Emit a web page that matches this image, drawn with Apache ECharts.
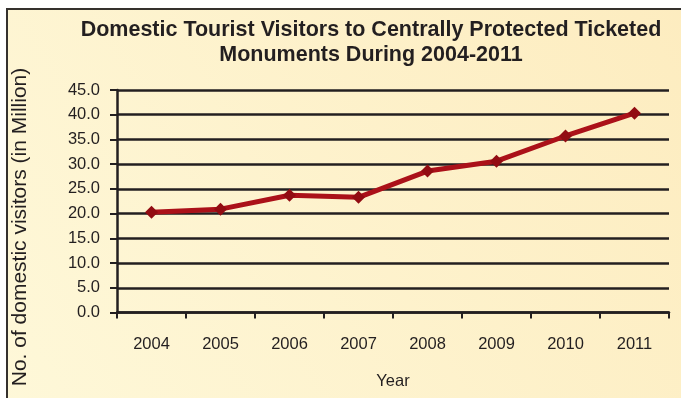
<!DOCTYPE html>
<html>
<head>
<meta charset="utf-8">
<script src="https://cdn.jsdelivr.net/npm/echarts@6/dist/echarts.min.js"></script>
<style>
  html, body { margin: 0; padding: 0; background: #ffffff; }
  #chart { width: 681px; height: 398px; }
</style>
</head>
<body>
<div id="chart"></div>
<script>
// Domestic visitors (millions) to centrally protected ticketed monuments
const years = ['2004', '2005', '2006', '2007', '2008', '2009', '2010', '2011'];
const visitors = [20.3, 20.9, 23.7, 23.3, 28.6, 30.6, 35.7, 40.3];
const yTicks = { min: 0, max: 45, interval: 5 };

const titleText = 'Domestic Tourist Visitors to Centrally Protected Ticketed\nMonuments During 2004-2011';
const yName = 'No. of domestic visitors (in Million)';
const xName = 'Year';

const ink = '#231f20';
const font = 'Liberation Sans, Arial, Helvetica, sans-serif';

const chart = echarts.init(document.getElementById('chart'), null, { renderer: 'canvas' });

chart.setOption({
  animation: false,
  backgroundColor: '#ffffff',
  graphic: [
    {
      type: 'rect',
      z: -10,
      silent: true,
      shape: { x: 7, y: 9, width: 700, height: 420 },
      style: {
        fill: {
          type: 'linear', x: 1, y: 0, x2: 0, y2: 1,
          colorStops: [
            { offset: 0, color: '#fdecbf' },
            { offset: 1, color: '#fef8d9' }
          ]
        },
        stroke: '#35312d',
        lineWidth: 2
      }
    },
    {
      type: 'text',
      x: 20,
      y: 227,
      rotation: Math.PI / 2,
      silent: true,
      style: {
        text: yName,
        fill: ink,
        font: '21px ' + font,
        align: 'center',
        verticalAlign: 'middle'
      }
    }
  ],
  title: {
    text: titleText,
    left: 366,
    top: 13,
    textAlign: 'center',
    textStyle: {
      color: ink,
      fontFamily: font,
      fontWeight: 'bold',
      fontSize: 21.5,
      lineHeight: 25
    }
  },
  grid: { left: 117, right: 12, top: 90, bottom: 85.5, containLabel: false },
  xAxis: {
    type: 'category',
    data: years,
    boundaryGap: true,
    name: xName,
    nameLocation: 'middle',
    nameGap: 60,
    nameTextStyle: { color: ink, fontFamily: font, fontSize: 16.5 },
    axisLine: { show: true, lineStyle: { color: ink, width: 2.5 } },
    axisTick: { show: true, length: 6, inside: false, lineStyle: { color: ink, width: 2 } },
    axisLabel: { color: ink, fontFamily: font, fontSize: 16.5, margin: 23 },
    splitLine: { show: false }
  },
  yAxis: {
    type: 'value',
    min: yTicks.min,
    max: yTicks.max,
    interval: yTicks.interval,
    axisLine: { show: true, lineStyle: { color: ink, width: 2.5 } },
    axisTick: { show: true, length: 7, inside: false, lineStyle: { color: ink, width: 2 } },
    axisLabel: {
      color: ink, fontFamily: font, fontSize: 16.5, margin: 17,
      formatter: v => v.toFixed(1)
    },
    splitLine: { show: true, lineStyle: { color: ink, width: 2.5 } }
  },
  series: [{
    type: 'line',
    data: visitors,
    symbol: 'diamond',
    symbolSize: 13,
    lineStyle: { color: '#ab1119', width: 5 },
    itemStyle: { color: '#920c12' },
    z: 5
  }]
});
</script>
</body>
</html>
